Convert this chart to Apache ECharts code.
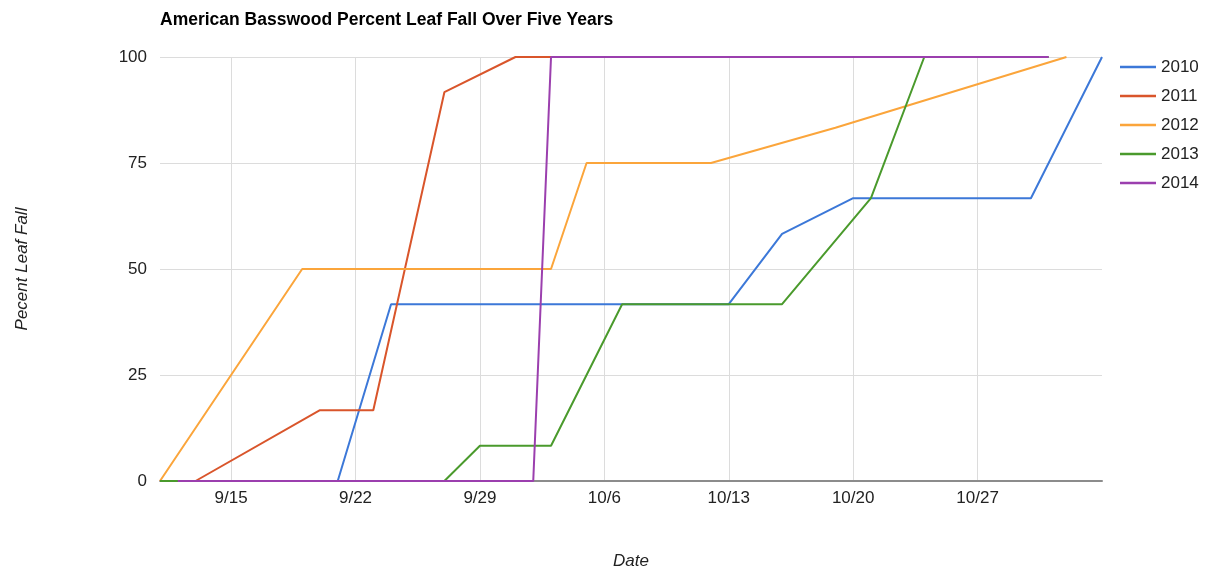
<!DOCTYPE html>
<html>
<head>
<meta charset="utf-8">
<script src="https://cdn.jsdelivr.net/npm/echarts@6/dist/echarts.min.js"></script>
<style>
  html, body { margin: 0; padding: 0; background: #fff; }
  #chart { width: 1209px; height: 569px; }
</style>
</head>
<body>
<div id="chart"></div>
<script>
  // dates are month/day, values are percent leaf fall
  var years = ['2010', '2011', '2012', '2013', '2014'];
  var colors = ['#3c78d8', '#d9552b', '#fba53b', '#4a9a2c', '#9b3fae'];

  var dates2010 = ['9/12', '9/21', '9/24', '10/13', '10/16', '10/20', '10/30', '11/3'];
  var pct2010   = [0, 0, 41.7, 41.7, 58.3, 66.7, 66.7, 100];

  var dates2011 = ['9/13', '9/20', '9/23', '9/27', '10/1', '10/8'];
  var pct2011   = [0, 16.7, 16.7, 91.7, 100, 100];

  var dates2012 = ['9/11', '9/19', '10/3', '10/5', '10/12', '10/19', '11/1'];
  var pct2012   = [0, 50, 50, 75, 75, 83.3, 100];

  var dates2013 = ['9/11', '9/27', '9/29', '10/3', '10/7', '10/16', '10/21', '10/24', '10/31'];
  var pct2013   = [0, 0, 8.3, 8.3, 41.7, 41.7, 66.7, 100, 100];

  var dates2014 = ['9/12', '10/2', '10/3', '10/31'];
  var pct2014   = [0, 0, 100, 100];

  var tickDates = ['9/15', '9/22', '9/29', '10/6', '10/13', '10/20', '10/27'];
  var yTicks = [0, 25, 50, 75, 100];

  // day count from Sept 1 (9/1 = 1)
  var monthStart = { 9: 0, 10: 30, 11: 61 };
  function toDay(s) {
    var p = s.split('/');
    return monthStart[+p[0]] + (+p[1]);
  }
  function toLabel(d) {
    if (d > 61) return '11/' + (d - 61);
    if (d > 30) return '10/' + (d - 30);
    return '9/' + d;
  }
  function pairs(dates, vals) {
    return dates.map(function (d, i) { return [toDay(d), vals[i]]; });
  }

  var allDates = [dates2010, dates2011, dates2012, dates2013, dates2014];
  var allPct = [pct2010, pct2011, pct2012, pct2013, pct2014];

  var font = 'Arial, "Liberation Sans", sans-serif';
  var myChart = echarts.init(document.getElementById('chart'));
  var option = {
    animation: false,
    color: colors,
    title: {
      text: 'American Basswood Percent Leaf Fall Over Five Years',
      left: 155,
      top: 6,
      textStyle: { fontFamily: font, fontSize: 17.5, fontWeight: 'bold', color: '#000' }
    },
    legend: {
      orient: 'vertical',
      left: 1115,
      top: 52,
      icon: 'rect',
      itemWidth: 36,
      itemHeight: 2.5,
      itemGap: 9,
      data: years,
      textStyle: { fontFamily: font, fontSize: 17, color: '#222', lineHeight: 20 }
    },
    grid: {
      left: 160,
      right: 107,
      top: 57,
      bottom: 88,
      outerBoundsMode: 'none'
    },
    xAxis: {
      type: 'value',
      min: toDay('9/11'),
      max: toDay('11/3'),
      name: 'Date',
      nameLocation: 'middle',
      nameGap: 72,
      nameTextStyle: { fontFamily: font, fontSize: 17, fontStyle: 'italic', color: '#222' },
      axisLine: { show: true, onZero: false, lineStyle: { color: '#8c8c8c', width: 2 } },
      axisTick: { show: false, customValues: tickDates.map(toDay) },
      axisLabel: {
        customValues: tickDates.map(toDay),
        formatter: function (v) { return toLabel(v); },
        margin: 9,
        fontFamily: font,
        fontSize: 17,
        color: '#222'
      },
      splitLine: { show: true, lineStyle: { color: '#dcdcdc', width: 1 } }
    },
    yAxis: {
      type: 'value',
      min: yTicks[0],
      max: yTicks[yTicks.length - 1],
      interval: 25,
      name: 'Pecent Leaf Fall',
      nameLocation: 'middle',
      nameGap: 129,
      nameTextStyle: { fontFamily: font, fontSize: 17, fontStyle: 'italic', color: '#222' },
      axisLine: { show: false },
      axisTick: { show: false },
      axisLabel: { margin: 13, fontFamily: font, fontSize: 17, color: '#222' },
      splitLine: { lineStyle: { color: '#dcdcdc', width: 1 } }
    },
    series: years.map(function (y, i) {
      return {
        name: y,
        type: 'line',
        showSymbol: false,
        data: pairs(allDates[i], allPct[i]),
        lineStyle: { width: 2, color: colors[i] },
        itemStyle: { color: colors[i] }
      };
    })
  };
  myChart.setOption(option);
</script>
</body>
</html>
